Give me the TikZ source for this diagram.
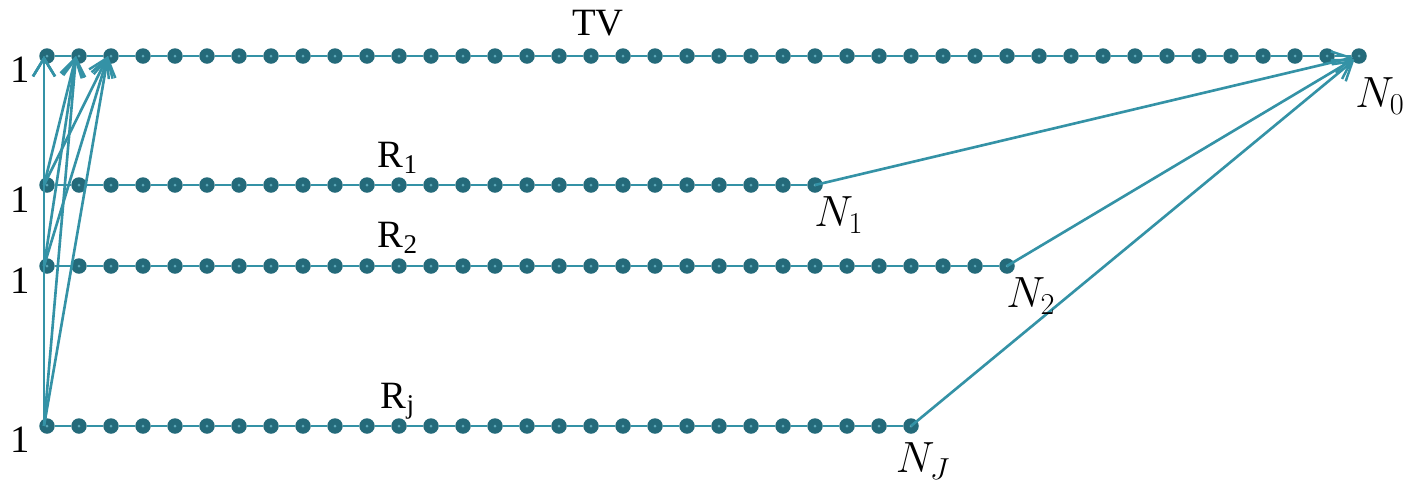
\documentclass[tikz,border=0pt]{standalone}
\usepackage{fontspec}
\setmainfont{Liberation Serif}
\usetikzlibrary{arrows.meta}
\definecolor{dotc}{RGB}{36,106,122}
\definecolor{linec}{RGB}{52,146,166}
\begin{document}
\begin{tikzpicture}[x=0.02cm, y=-0.02cm, >={Straight Barb[length=0.36cm, width=0.44cm, line width=1.4pt]}]
	\tikzset{pt/.style={circle, fill=dotc, inner sep=0pt, minimum size=0.31cm,
			path picture={\fill[linec!80!white] (path picture bounding box.center) circle (0.03cm);}}}
	\tikzset{seg/.style={linec, line width=1.3pt}}
	\tikzset{arr/.style={->, linec, line width=1.5pt}}
	\tikzset{lbl/.style={inner sep=0pt, font=\fontsize{22}{26}\selectfont}}
	\tikzset{nlbl/.style={inner sep=0pt, font=\fontsize{24}{28}\selectfont}}
	\useasboundingbox (0,0) rectangle (1403,485);
	% --- 1. Rows of dots ---
	\foreach \row/\y/\n in {tv/56/42, ra/185/25, rb/266/31, rj/426/28} {
		\foreach \k in {1,...,\n}
			\node[pt] (\row\k) at ({47+32*(\k-1)},\y) {};
		\foreach \k [remember=\k as \j (initially 1)] in {2,...,\n}
			\draw[seg] (\row\j) -- (\row\k);
	}
	% --- 2. Arrows to the first TV dots ---
	\foreach \row in {ra, rb, rj}
		\foreach \k in {1,2,3}
			\draw[arr] ([xshift=-0.06cm]\row1.center) -- ([xshift=-0.06cm]tv\k.center);
	% --- 3. Arrows to N0 ---
	\draw[arr, shorten >=0.12cm] (ra25.center) -- (tv42.center);
	\draw[arr, shorten >=0.12cm] (rb31.center) -- (tv42.center);
	\draw[arr, shorten >=0.12cm] (rj28.center) -- (tv42.center);
	% --- 4. Labels ---
	\node[lbl] (ltv) at (598,23) {TV};
	\node[lbl] (lra) at (398,158) {R\textsubscript{1}};
	\node[lbl] (lrb) at (398,238) {R\textsubscript{2}};
	\node[lbl] (lrj) at (398,401) {R\textsubscript{j}};
	\node[lbl] (o1) at (20,70) {1};
	\node[lbl] (o2) at (20,200) {1};
	\node[lbl] (o3) at (20,281) {1};
	\node[lbl] (o4) at (20,440) {1};
	\node[nlbl] (n0) at (1380,96) {$N_0$};
	\node[nlbl] (n1) at (839,215) {$N_1$};
	\node[nlbl] (n2) at (1031,296) {$N_2$};
	\node[nlbl] (nj) at (923,461) {$N_J$};
\end{tikzpicture}
\end{document}
